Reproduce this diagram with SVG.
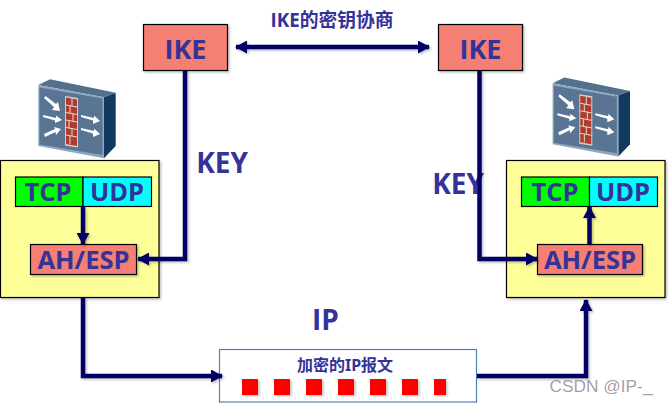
<svg xmlns="http://www.w3.org/2000/svg" width="668" height="403" viewBox="0 0 668 403">
<style>
text{font-family:"Open Sans","Noto Sans CJK SC",sans-serif;font-weight:700;fill:#333399;text-anchor:middle}
.t{font-size:25.500px}
.i{font-size:27px}
.k{font-size:28px}
.c{font-size:16px;font-family:"Noto Sans","Noto Sans CJK SC",sans-serif}
.b{stroke:#000;stroke-width:1.2}
.s{filter:url(#sh)}
.y{fill:#ffff99}.r{fill:#f47f72}.g{fill:#00ff00}.u{fill:#00ffff}
.l{fill:none;stroke:#000066;stroke-width:4.500}
.p{fill:#ff0000}
.a{fill:#fff}
.m{fill:none;stroke:#e4dccf;stroke-width:1}
</style>
<defs>
<filter id="sh" x="-5%" y="-5%" width="110%" height="115%"><feDropShadow dx="1.5" dy="1.5" stdDeviation="1" flood-color="#000" flood-opacity=".25"/></filter>
<marker id="ah" viewBox="0 0 12 12" refX="11" refY="6" markerWidth="12" markerHeight="13" markerUnits="userSpaceOnUse" orient="auto-start-reverse" preserveAspectRatio="none"><path d="M0 0L12 6L0 12Z" fill="#000066"/></marker>
<g id="fw">
<polygon points="38.3,85 50,79.300 115.700,92.700 104,97.300" fill="#54708f"/>
<polygon points="104,97.300 115.700,92.700 115.700,146 104,158.300" fill="#123a60"/>
<polygon points="38.300,85 104,97.300 104,158.300 38.300,146" fill="#8ea6bd"/>
<polygon points="39.500,87.500 102.500,98.500 102.500,155 39.500,144.500" fill="#5a7594"/>
<polygon points="65,96 78,98 78,147.500 65,145.500" fill="#d8d0c4"/>
<polygon points="66,97.500 77,99.500 77,146 66,144" fill="#b03a2e"/>
<path class="m" d="M66 105L77 107M66 112.500L77 114.500M66 120L77 122M66 127.500L77 129.500M66 135L77 137M72 98.500V106M70 106V113M73 113.500V121M69 121V128M72 128.500V136M70 136V144"/>
<g class="a">
<polygon points="44,98 45.500,96 56,104 58,102 60,111 52,110 54,107"/>
<polygon points="43,117 43,115 56,118 56,115.500 62,120 55,123 55,120.500"/>
<polygon points="45,137 44,134 55,129 54,127 61,129 56,135 55.500,132"/>
<polygon points="81,117 81,115 94,118 94,115.500 100,121 93,124 93,120.500"/>
<polygon points="81,130 81,128 94,131 94,128.500 100,134 93,137 93,133.500"/>
</g>
</g>
</defs>

<g id="firewall-left"><use href="#fw"/></g>
<g id="firewall-right"><use href="#fw" x="514.300" y="-1.700"/></g>

<g id="host-left">
<rect class="y b s" x="0.500" y="160.500" width="158.500" height="137"/>
<rect class="g b" x="15.500" y="177" width="67.500" height="29.500"/>
<rect class="u b" x="83" y="177" width="68.500" height="29.500"/>
<text class="t" x="48" y="200.500">TCP</text>
<text class="t" x="117" y="200.500">UDP</text>
</g>
<g id="ah-left">
<rect class="r b s" x="30.500" y="244.500" width="106" height="30"/>
<text class="t" x="83.500" y="268.500">AH/ESP</text>
</g>

<g id="host-right">
<rect class="y b s" x="506.500" y="160.500" width="158.500" height="137"/>
<rect class="g b" x="521.500" y="177" width="68" height="29.500"/>
<rect class="u b" x="589.500" y="177" width="68" height="29.500"/>
<text class="t" x="555" y="200.500">TCP</text>
<text class="t" x="623" y="200.500">UDP</text>
</g>
<g id="ah-right">
<rect class="r b s" x="537.500" y="244.500" width="105" height="30"/>
<text class="t" x="590" y="268.500">AH/ESP</text>
</g>

<g id="ike-left">
<rect class="r b s" x="143.500" y="24.500" width="84" height="46"/>
<text class="i" x="185.500" y="59">IKE</text>
</g>
<g id="ike-right">
<rect class="r b s" x="438.500" y="24.500" width="84" height="46"/>
<text class="i" x="480.500" y="59">IKE</text>
</g>

<g id="packet">
<rect x="219.500" y="349.500" width="257" height="52.500" fill="#fff" stroke="#4f81bd" stroke-width="1.200"/>
<text class="c" x="345" y="371">加密的IP报文</text>
<g class="s">
<rect class="p" x="242" y="379" width="16" height="16"/>
<rect class="p" x="274" y="379" width="16" height="16"/>
<rect class="p" x="306" y="379" width="16" height="16"/>
<rect class="p" x="338" y="379" width="16" height="16"/>
<rect class="p" x="370" y="379" width="16" height="16"/>
<rect class="p" x="402" y="379" width="16" height="16"/>
<rect class="p" x="434" y="379" width="12" height="16"/>
</g>
</g>

<g id="labels">
<text class="k" x="222" y="173">KEY</text>
<text class="k" x="458" y="194">KEY</text>
<text class="k" x="325.500" y="330">IP</text>
<text x="332" y="27" style="font-size:18.800px">IKE的密钥协商</text>
</g>

<g id="connectors" class="s">
<path class="l" d="M236 47H429" marker-start="url(#ah)" marker-end="url(#ah)"/>
<path class="l" d="M185 70.500V259H138" marker-end="url(#ah)"/>
<path class="l" d="M479.500 70.500V259H537" marker-end="url(#ah)"/>
<path class="l" d="M83 206.500V244" marker-end="url(#ah)"/>
<path class="l" d="M589.500 244V207" marker-end="url(#ah)"/>
<path class="l" d="M83 297.500V376H222" marker-end="url(#ah)"/>
<path class="l" d="M477 376H586V300" marker-end="url(#ah)"/>
</g>

<text x="601" y="392" style="font-family:'Liberation Sans',sans-serif;font-weight:400;font-size:17.300px;fill:#8f8f8f;fill-opacity:.85">CSDN @IP-_</text>
</svg>
